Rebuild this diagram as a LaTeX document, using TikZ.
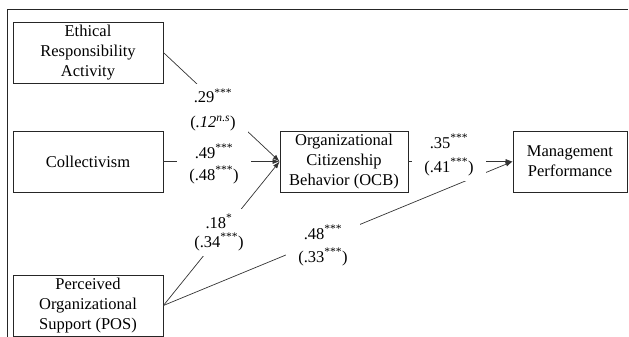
\documentclass[tikz,border=0pt]{standalone}
\usepackage{fontspec}
\setmainfont{Liberation Serif}
\usetikzlibrary{arrows.meta}
\begin{document}
\begin{tikzpicture}[x=1pt,y=-1pt,
  box/.style={draw=black!85,line width=0.8pt,align=center,inner sep=0pt,
    font=\fontsize{16.5}{20}\selectfont},
  coef/.style={fill=white,align=center,inner xsep=12pt,inner ysep=5pt,
    font=\fontsize{16.5}{19}\selectfont},
  path/.style={draw=black!80,line width=0.7pt,-{Latex[length=7pt,width=5pt]}}]
\useasboundingbox (0,0) rectangle (629,337);
\draw[line width=0.8pt,black!85] (628,9) -- (7,9) -- (7,337);
\node[box,minimum width=150pt,minimum height=61pt] (eth) at (88,52.5) {Ethical\\Responsibility\\Activity};
\node[box,minimum width=150pt,minimum height=61pt] (col) at (88,161.5) {Collectivism};
\node[box,minimum width=150pt,minimum height=61pt] (pos) at (88,305.5) {Perceived\\Organizational\\Support (POS)};
\node[box,minimum width=128pt,minimum height=61pt] (ocb) at (344,161.5) {Organizational\\Citizenship\\Behavior (OCB)};
\node[box,minimum width=114pt,minimum height=61pt] (mgt) at (570,161.5) {Management\\Performance};
\draw[path] (eth.east) -- (ocb.west);
\draw[path] (col.east) -- (ocb.west);
\draw[path] (pos.east) -- (ocb.west);
\draw[path] (pos.east) -- (mgt.west);
\draw[path] (ocb.east) -- (mgt.west);
\node[coef] (l1) at (213,110) {.29\textsuperscript{***}\\[6pt](\textit{.12}\textsuperscript{\textit{n.s}})};
\node[coef] (l2) at (214,164) {.49\textsuperscript{***}\\[3pt](.48\textsuperscript{***})};
\node[coef] (l3) at (219,232.5) {.18\textsuperscript{*}\\(.34\textsuperscript{***})};
\node[coef] (l4) at (323,245.5) {.48\textsuperscript{***}\\[4pt](.33\textsuperscript{***})};
\node[coef] (l5) at (449,155) {.35\textsuperscript{***}\\[5pt](.41\textsuperscript{***})};
\end{tikzpicture}
\end{document}
